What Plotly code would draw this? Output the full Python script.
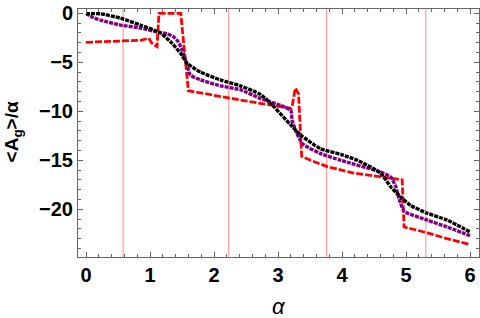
import plotly.graph_objects as go

# Black curve
alpha_black = [0, 0.23, 0.54, 0.85, 1.16, 1.32, 1.48, 1.58, 1.79, 2.1, 2.41, 2.73, 2.93, 3.2,
               3.35, 3.66, 3.98, 4.24, 4.6, 4.76, 4.91, 5.07, 5.33, 5.64, 6.0]
val_black = [-0.05, -0.05, -0.5, -1.2, -2.0, -2.9, -4.1, -5.1, -6.0, -6.8, -7.4, -8.3, -9.5, -11.4,
             -12.4, -13.8, -14.4, -15.0, -16.3, -17.7, -18.7, -19.6, -20.4, -21.1, -22.3]

# Purple curve
alpha_purple = [0, 0.1, 0.23, 0.54, 0.85, 1.11, 1.27, 1.37, 1.44, 1.5, 1.58, 1.63, 1.79, 2.1, 2.41,
                2.73, 3.04, 3.2, 3.22, 3.27, 3.38, 3.66, 3.98, 4.6, 4.76, 4.84, 4.89, 4.97,
                5.33, 5.64, 6.0]
val_purple = [0, -0.4, -0.7, -1.2, -1.5, -1.9, -2.1, -2.4, -2.9, -3.7, -5.3, -6.3, -6.8, -7.4, -7.8,
              -8.7, -9.4, -9.9, -10.9, -11.9, -13.3, -14.3, -15.0, -16.2, -16.7, -17.7, -18.9,
              -20.2, -21.1, -21.8, -22.7]

# Red curve
alpha_red = [0, 0.54, 0.85, 0.98, 1.03, 1.11, 1.14, 1.48, 1.6, 2.41, 3.2, 3.22, 3.27, 3.32, 3.37,
             3.51, 3.77, 4.18, 4.6, 4.94, 4.97, 5.33, 5.64, 6.0]
val_red = [-2.96, -2.85, -2.75, -2.55, -3.06, -3.4, 0, 0, -7.9, -8.85, -9.7, -9.5, -7.65, -8.2,
           -14.6, -15.0, -15.65, -16.3, -16.7, -17.0, -21.8, -22.4, -23.0, -23.6]

# Vertical reference lines
vlines = [0.58, 2.23, 3.76, 5.31]

x_ticks = [0, 1, 2, 3, 4, 5, 6]
y_ticks = [0, -5, -10, -15, -20]

fig = go.Figure()
fig.add_trace(go.Scatter(x=alpha_red, y=val_red, mode="lines",
                         line=dict(color="#ff0000", width=2.8, dash="7px,2px")))
fig.add_trace(go.Scatter(x=alpha_purple, y=val_purple, mode="lines",
                         line=dict(color="#800080", width=3.4, dash="4px,1px", shape="spline",
                                   smoothing=0.5)))
fig.add_trace(go.Scatter(x=alpha_black, y=val_black, mode="lines",
                         line=dict(color="#000000", width=3.4, dash="4px,1px", shape="spline",
                                   smoothing=0.6)))

for v in vlines:
    fig.add_shape(type="line", x0=v, x1=v, y0=0, y1=1, xref="x", yref="paper",
                  line=dict(color="#ff8c8c", width=1), layer="below")

axis_common = dict(showline=True, linecolor="#666666", linewidth=1, mirror="allticks",
                   ticks="inside", ticklen=5, tickcolor="#666666", tickwidth=1,
                   showgrid=False, zeroline=False,
                   tickfont=dict(family="Liberation Sans", size=20, color="black", weight="bold"))

fig.update_xaxes(range=[-0.125, 6.14], tickvals=x_ticks, ticktext=[str(t) for t in x_ticks],
                 minor=dict(ticks="inside", dtick=0.2, tick0=0, ticklen=3, tickcolor="#666666"),
                 **axis_common)
fig.update_yaxes(range=[-24.87, 0.44], tickvals=y_ticks,
                 ticktext=["0" if t == 0 else "\u2212" + str(-t) for t in y_ticks],
                 minor=dict(ticks="inside", dtick=1, tick0=0, ticklen=3, tickcolor="#666666"),
                 **axis_common)

fig.add_annotation(text="<i>α</i>", xref="paper", yref="paper", x=0.5, y=-0.198,
                   xanchor="center", yanchor="middle", showarrow=False,
                   font=dict(family="Liberation Sans", size=22, color="black"))
fig.add_annotation(text="&lt;A<sub>g</sub>&gt;/α", xref="paper", yref="paper",
                   x=-0.163, y=0.505, xanchor="center", yanchor="middle", textangle=-90,
                   showarrow=False,
                   font=dict(family="Liberation Sans", size=19, color="black", weight="bold"))

fig.update_layout(width=480, height=318, margin=dict(l=78, r=1, t=9, b=61),
                  plot_bgcolor="white", paper_bgcolor="white", showlegend=False)

fig.write_html("out.html", config={"displayModeBar": False},
               post_script="document.body.style.margin='0';document.body.style.overflow='hidden';")
